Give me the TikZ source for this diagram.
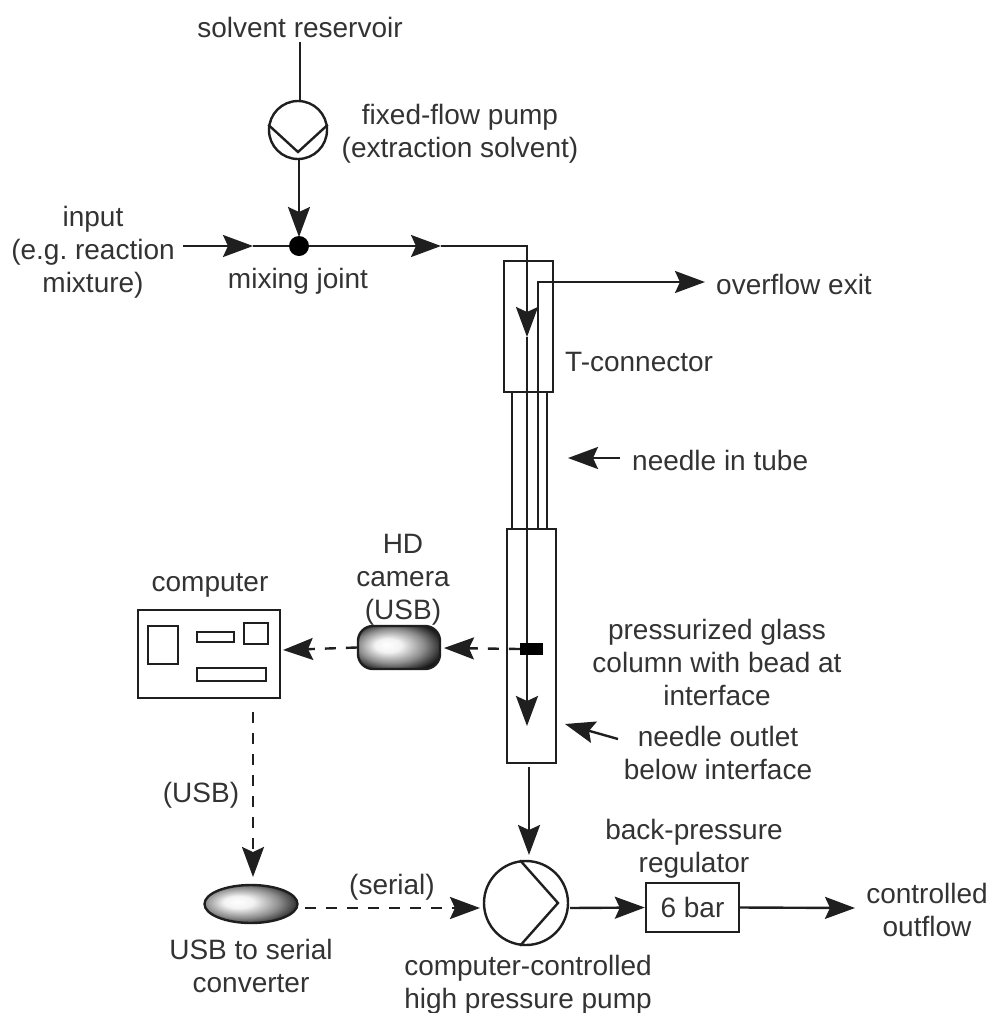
\documentclass[tikz,border=0pt]{standalone}
\usepackage{fontspec}
\setmainfont{Liberation Sans}
\usetikzlibrary{arrows.meta,shapes.geometric,calc}
\pgfdeclareradialshading{devshade}{\pgfpoint{-8bp}{3bp}}{rgb(0bp)=(1,1,1);rgb(8bp)=(0.95,0.95,0.95);rgb(20bp)=(0.55,0.55,0.55);rgb(31bp)=(0.08,0.08,0.08);rgb(50bp)=(0,0,0)}
\definecolor{ink}{gray}{0.12}
\definecolor{txt}{gray}{0.2}
\tikzset{
  line/.style={draw=ink,line width=2.4pt},
  tip/.style={-{Stealth[length=30pt,width=22pt,inset=5pt]}},
  flow/.style={line,tip},
  dashline/.style={line,dash pattern=on 11pt off 10pt},
  dashflow/.style={dashline,tip},
  label/.style={text=txt,font=\fontsize{28}{33}\selectfont\frenchspacing,align=center,inner sep=0pt},
  box/.style={line,rectangle,inner sep=0pt,minimum width=0pt,minimum height=0pt},
  pump/.style={line,circle,inner sep=0pt},
}
\newcommand{\rectnode}[5]{\node[box,minimum width=#4pt-#2pt,minimum height=#5pt-#3pt,anchor=north west] (#1) at (#2,#3) {};}
\begin{document}
\begin{tikzpicture}[x=1pt,y=-1pt]
\useasboundingbox (0,0) rectangle (992,1013);
% labels
\node[label] (lres) at (300,27) {solvent reservoir};
\node[label] (lfix) at (460,134) {fixed-flow pump\\(extraction solvent)};
\node[label] (linp) at (93,252) {input\\(e.g. reaction\\mixture)};
\node[label] (lmix) at (298,281) {mixing joint};
\node[label,anchor=west] (lover) at (716,284) {overflow exit};
\node[label,anchor=west] (lt) at (565,362) {T-connector};
\node[label,anchor=west] (lneedle) at (632,460) {needle in tube};
\node[label] (lhd) at (403,580) {HD\\camera\\(USB)};
\node[label] (lcomp) at (210,585) {computer};
\node[label] (lglass) at (717,662) {pressurized glass\\column with bead at\\interface};
\node[label] (loutlet) at (718,753) {needle outlet\\below interface};
\node[label] (lusb) at (201,795) {(USB)};
\node[label] (lserial) at (392,887) {(serial)};
\node[label] (lconv) at (251,966) {USB to serial\\converter};
\node[label] (lhigh) at (528,985) {computer-controlled\\high pressure pump};
\node[label] (lback) at (694,849) {back-pressure\\regulator};
\node[label] (lout) at (927,910) {controlled\\outflow};
% T-connector, tube, column
\rectnode{tconn}{503}{260}{552}{391}
\rectnode{tube}{511}{391}{546}{528}
\rectnode{column}{506}{528}{555}{762}
% pumps
\node[pump,minimum size=58pt] (ptop) at (298,130) {};
\node[pump,minimum size=84pt] (pbot) at (526,903) {};
\coordinate (vtop) at (298,152);
\coordinate (vbot) at (558,903);
\draw[line] (ptop.170) -- (vtop) -- (ptop.10);
\draw[line] (pbot.98) -- (vbot) -- (pbot.262);
% joint
\node[circle,fill=black,minimum size=20pt,inner sep=0pt] (joint) at (299,246) {};
% coordinates
\coordinate (resbot) at (300,42);
\coordinate (pumpin) at (300,101);
\coordinate (pumpout) at (299,160);
\coordinate (injoint) at (299,237);
\coordinate (inp) at (183,246);
\coordinate (a1) at (253,246);
\coordinate (a2) at (441,246);
\coordinate (corner) at (527,246);
\coordinate (a3) at (527,337);
\coordinate (needleend) at (527,726);
\coordinate (ovbend) at (538,282);
\coordinate (ovbot) at (538,528);
\coordinate (ovtip) at (705,282);
\coordinate (coltop) at (529,767);
\coordinate (pumptop) at (529,855);
\coordinate (a4) at (570,908);
\coordinate (outend) at (855,908);
\coordinate (needleA) at (620,458);
\coordinate (needleB) at (568,458);
\coordinate (outletA) at (618,739);
\coordinate (outletB) at (565,724);
% tubes
\draw[line] (resbot) -- (pumpin);
\draw[flow] (pumpout) -- (injoint);
\draw[flow] (inp) -- (a1);
\draw[line] (a1) -- (joint);
\draw[flow] (joint) -- (a2);
\draw[flow] (a2) -- (corner) -- (a3);
\draw[flow] (a3) -- (needleend);
\draw[flow] (ovbot) -- (ovbend) -- (ovtip);
\draw[flow] (coltop) -- (pumptop);
% side arrows
\draw[flow] (needleA) -- (needleB);
\draw[flow] (outletA) -- (outletB);
% regulator
\node[box,minimum width=93pt,minimum height=49pt,text=txt,font=\fontsize{28}{33}\selectfont] (reg) at (692.5,907.5) {6 bar};
\draw[flow] (a4) -- (reg.west);
\draw[flow] (reg.east) -- (outend);
% bead
\node[fill=black,minimum width=23pt,minimum height=12pt,inner sep=0pt] (bead) at (531.5,649) {};
% camera
\node[rectangle,rounded corners=15pt,draw=ink,line width=2.4pt,shading=devshade,minimum width=82pt,minimum height=43pt,inner sep=0pt] (cam) at (399,647.5) {};
% computer
\rectnode{comp}{137}{609}{279}{697}
\rectnode{c1}{147}{625}{177}{663}
\rectnode{c2}{196}{631}{233}{641}
\rectnode{c3}{243}{622}{267}{643}
\rectnode{c4}{196}{667}{265}{680}
% converter
\node[ellipse,draw=ink,line width=2.4pt,shading=devshade,minimum width=93pt,minimum height=38pt,inner sep=0pt] (conv) at (251,904) {};
% signal coordinates
\coordinate (camtip) at (444,648);
\coordinate (comptip) at (283,650);
\coordinate (compbot) at (253,712);
\coordinate (convtip) at (253,877);
\coordinate (serstart) at (305,908);
\coordinate (sertip) at (480,908);
% signals
\draw[dashflow] (bead.west) -- (camtip);
\draw[dashflow] (cam.west) -- (comptip);
\draw[dashflow] (compbot) -- (convtip);
\draw[dashflow] (serstart) -- (sertip);
\end{tikzpicture}
\end{document}
